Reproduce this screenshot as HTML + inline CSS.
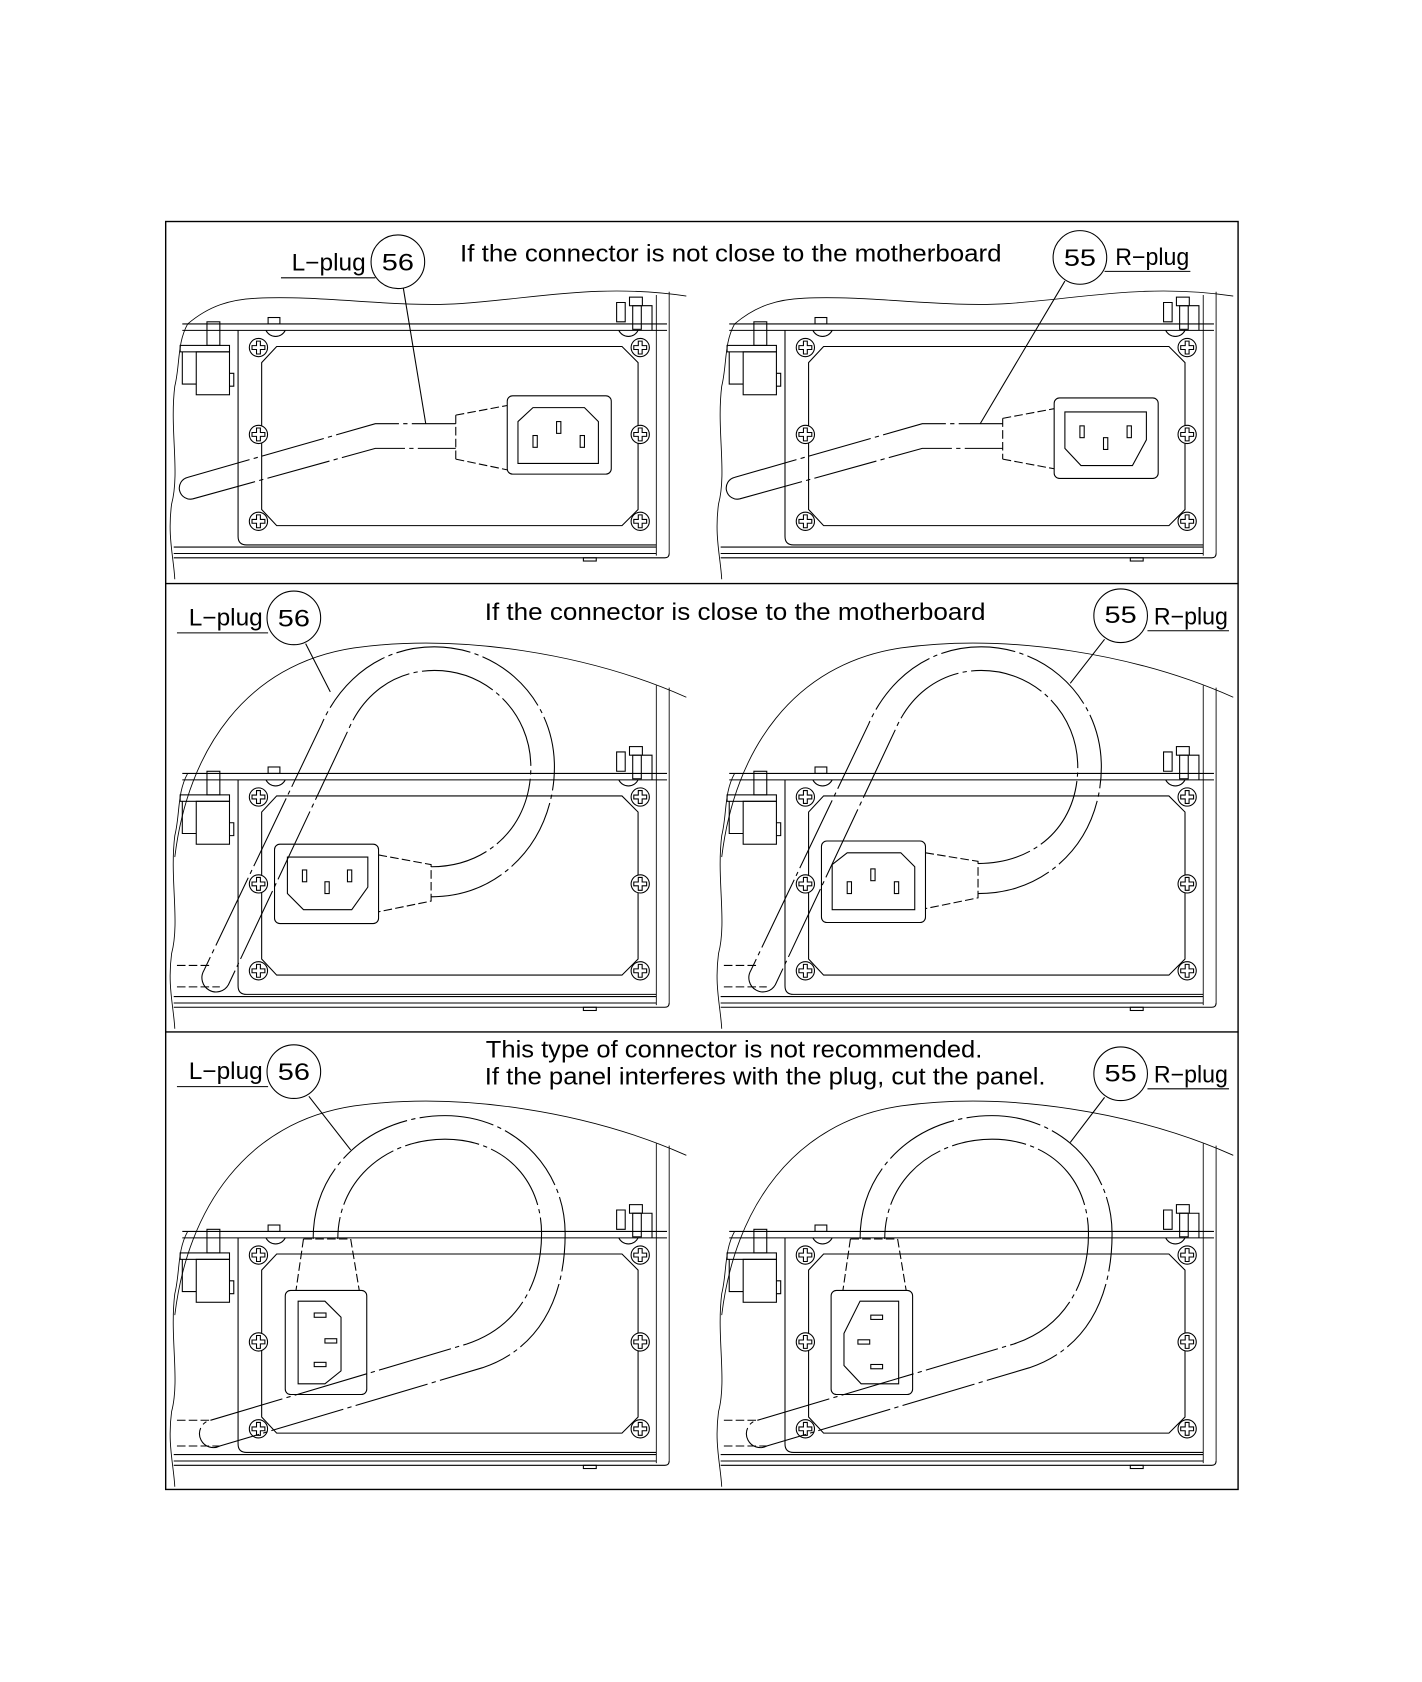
<!DOCTYPE html>
<html><head><meta charset="utf-8"><style>
html,body{margin:0;padding:0;background:#fff;}
svg{display:block;}
text{font-family:"Liberation Sans","Noto Sans CJK JP",sans-serif;font-size:22px;fill:#000;}
</style></head><body>
<svg width="1422" height="1682" viewBox="0 0 1326 1568" preserveAspectRatio="none" xmlns="http://www.w3.org/2000/svg">
<defs>
<g id="screw" fill="#fff" stroke="#000" stroke-width="1">
<circle r="8.5"/>
<path d="M-1.8,-6 H1.8 V-1.8 H6 V1.8 H1.8 V6 H-1.8 V1.8 H-6 V-1.8 H-1.8 Z" fill="none"/>
</g>
<g id="chassis" fill="none" stroke="#000" stroke-width="1">
<path d="M175,302 C165,320 168,340 163,360 C158,400 168,440 160,470 C156,500 162,520 163,540" stroke-width="0.8"/>
<line x1="170" y1="302" x2="622" y2="302"/>
<line x1="170" y1="308" x2="622" y2="308"/>
<path d="M222,308 V500 Q222,508 230,508 H612"/>
<path d="M258,323 H580 L595,338 V475 L580,490 H258 L244,475 V338 Z"/>
<line x1="162" y1="510" x2="612" y2="510"/>
<line x1="162" y1="516" x2="612" y2="516"/>
<path d="M162,520 H620 Q624,520 624,516"/>
<rect x="544" y="520" width="12" height="3"/>
<rect x="250" y="296" width="11" height="6"/>
<path d="M248,308 A10,10 0 0 0 266,308"/>
<rect x="193" y="300" width="12" height="22"/>
<rect x="168" y="322" width="46" height="6"/>
<rect x="183" y="328" width="31" height="40"/>
<path d="M170,328 V358 H183"/>
<path d="M214,348 H218 V360 H214"/>
<path d="M575,282 H583 V300 H575 Z"/>
<rect x="587" y="277" width="12" height="8"/>
<rect x="590" y="285" width="8" height="22"/>
<path d="M599,285 H608 V308"/>
<path d="M577,308 A10,10 0 0 0 595,308"/>
<use href="#screw" x="241" y="324"/><use href="#screw" x="597" y="324"/>
<use href="#screw" x="241" y="405"/><use href="#screw" x="597" y="405"/>
<use href="#screw" x="241" y="486"/><use href="#screw" x="597" y="486"/>
</g>
<g id="shell1" fill="none" stroke="#000" stroke-width="0.8">
<path d="M175,302 C195,285 215,279 240,278 C300,275 370,287 430,283 C500,278 560,264 640,276"/>
<path d="M612,275 V518 M624,272 V516"/>
</g>
<g id="shell2" fill="none" stroke="#000" stroke-width="0.8">
<path d="M163,380 C175,280 230,200 330,185 C430,171 550,191 640,231"/>
<path d="M612,220 V518 M624,222 V516"/>
</g>
</defs>

<rect x="154.5" y="206.5" width="1000" height="1182" fill="none" stroke="#000" stroke-width="1.3"/>
<line x1="154" y1="544" x2="1155" y2="544" stroke="#000" stroke-width="1.3"/>
<line x1="154" y1="962" x2="1155" y2="962" stroke="#000" stroke-width="1.3"/>

<!-- Row 1 -->
<use href="#shell1"/><use href="#chassis"/>
<use href="#shell1" x="510"/><use href="#chassis" x="510"/>
<g fill="none" stroke="#000" stroke-width="1">
<path d="M175,445 L350,395 H425 M180,465 L350,418 H425 M175,445 A10,10 0 0 0 180,465" stroke-dasharray="60 4 4 4"/>
<path d="M425,387 L473,378 M425,428 L473,438 M425,387 V428" stroke-dasharray="8 3"/>
<rect x="473" y="369" width="97" height="73" rx="5"/>
<path d="M483,393 L497,380 H545 L558,393 V432 H483 Z"/>
<rect x="497" y="406" width="4" height="11"/><rect x="519" y="393" width="4" height="11"/><rect x="541" y="406" width="4" height="11"/>
<path d="M685,445 L860,395 H935 M690,465 L860,418 H935 M685,445 A10,10 0 0 0 690,465" stroke-dasharray="60 4 4 4"/>
<path d="M935,390 L983,381 M935,428 L983,437 M935,390 V428" stroke-dasharray="8 3"/>
<rect x="983" y="371" width="97" height="75" rx="5"/>
<path d="M993,384 H1069 V410 L1056,434 H1008 L993,418 Z"/>
<rect x="1007" y="397" width="4" height="11"/><rect x="1029" y="408" width="4" height="11"/><rect x="1051" y="397" width="4" height="11"/>
<line x1="376" y1="268" x2="397" y2="395"/>
<line x1="993" y1="262" x2="914" y2="395"/>
<line x1="262" y1="259" x2="350" y2="259"/>
<line x1="1030" y1="253" x2="1110" y2="253"/>
<circle cx="371" cy="244" r="25" fill="#fff"/>
<circle cx="1007" cy="240" r="25" fill="#fff"/>
</g>
<text x="272" y="252" textLength="69" lengthAdjust="spacingAndGlyphs">L−plug</text><text x="356" y="252" textLength="30" lengthAdjust="spacingAndGlyphs">56</text>
<text x="992" y="248" textLength="30" lengthAdjust="spacingAndGlyphs">55</text><text x="1040" y="247" textLength="69" lengthAdjust="spacingAndGlyphs">R−plug</text>
<text x="429" y="244" textLength="505" lengthAdjust="spacingAndGlyphs">If the connector is not close to the motherboard</text>

<!-- Row 2 -->
<use href="#shell2" y="419"/><use href="#chassis" y="419"/>
<use href="#shell2" x="510" y="419"/><use href="#chassis" x="510" y="419"/>
<g fill="none" stroke="#000" stroke-width="1">
<path d="M402,836 C470,836 517,780 517,715 C517,650 465,603 405,603 C350,603 315,640 300,675 L190,905 A12,12 0 0 0 213,918 L325,680 C340,645 370,625 405,625 C455,625 495,665 495,715 C495,770 455,808 402,808" stroke-dasharray="70 4 4 4"/>
<line x1="165" y1="900" x2="195" y2="900" stroke-dasharray="8 3"/><line x1="165" y1="920" x2="205" y2="920" stroke-dasharray="8 3"/>
<path d="M353,797 L402,806 V840 L353,850" stroke-dasharray="8 3"/>
<rect x="256" y="787" width="97" height="74" rx="5"/>
<path d="M268,799 H343 V827 L328,848 H283 L268,833 Z"/>
<rect x="282" y="811" width="4" height="11"/><rect x="303" y="822" width="4" height="11"/><rect x="324" y="811" width="4" height="11"/>
<path d="M912,833 C980,833 1027,780 1027,715 C1027,650 975,603 915,603 C860,603 825,640 810,675 L700,905 A12,12 0 0 0 723,918 L835,680 C850,645 880,625 915,625 C965,625 1005,665 1005,715 C1005,770 965,805 912,805" stroke-dasharray="70 4 4 4"/>
<line x1="675" y1="900" x2="705" y2="900" stroke-dasharray="8 3"/><line x1="675" y1="920" x2="715" y2="920" stroke-dasharray="8 3"/>
<path d="M863,795 L912,803 V837 L863,847" stroke-dasharray="8 3"/>
<rect x="766" y="784" width="97" height="76" rx="5"/>
<path d="M776,806 L790,795 H840 L853,808 V848 H776 Z"/>
<rect x="790" y="822" width="4" height="11"/><rect x="812" y="810" width="4" height="11"/><rect x="834" y="822" width="4" height="11"/>
<line x1="285" y1="600" x2="308" y2="645"/>
<line x1="1030" y1="596" x2="998" y2="637"/>
<line x1="165" y1="590" x2="250" y2="590"/>
<line x1="1070" y1="588" x2="1146" y2="588"/>
<circle cx="274" cy="576" r="25" fill="#fff"/>
<circle cx="1045" cy="574" r="25" fill="#fff"/>
</g>
<text x="176" y="583" textLength="69" lengthAdjust="spacingAndGlyphs">L−plug</text><text x="259" y="584" textLength="30" lengthAdjust="spacingAndGlyphs">56</text>
<text x="1030" y="581" textLength="30" lengthAdjust="spacingAndGlyphs">55</text><text x="1076" y="582" textLength="69" lengthAdjust="spacingAndGlyphs">R−plug</text>
<text x="452" y="578" textLength="467" lengthAdjust="spacingAndGlyphs">If the connector is close to the motherboard</text>

<!-- Row 3 -->
<use href="#shell2" y="846"/><use href="#chassis" y="846"/>
<use href="#shell2" x="510" y="846"/><use href="#chassis" x="510" y="846"/>
<g fill="none" stroke="#000" stroke-width="1">
<path d="M292,1155 C292,1085 350,1040 415,1040 C480,1040 527,1090 527,1150 C527,1225 490,1262 450,1275 L205,1348 A12,12 0 0 1 193,1325 L435,1253 C475,1240 505,1205 505,1150 C505,1100 470,1062 415,1062 C360,1062 315,1100 315,1155" stroke-dasharray="70 4 4 4"/>
<line x1="165" y1="1324" x2="195" y2="1324" stroke-dasharray="8 3"/><line x1="165" y1="1348" x2="205" y2="1348" stroke-dasharray="8 3"/>
<path d="M283,1155 H327 L335,1203 M283,1155 L276,1203" stroke-dasharray="8 3"/>
<rect x="266" y="1203" width="76" height="97" rx="5"/>
<path d="M278,1213 H303 L318,1228 V1278 L303,1290 H278 Z"/>
<rect x="293" y="1224" width="11" height="4"/><rect x="303" y="1248" width="11" height="4"/><rect x="293" y="1270" width="11" height="4"/>
<path d="M802,1155 C802,1085 860,1040 925,1040 C990,1040 1037,1090 1037,1150 C1037,1225 1000,1262 960,1275 L715,1348 A12,12 0 0 1 703,1325 L945,1253 C985,1240 1015,1205 1015,1150 C1015,1100 980,1062 925,1062 C870,1062 825,1100 825,1155" stroke-dasharray="70 4 4 4"/>
<line x1="675" y1="1324" x2="705" y2="1324" stroke-dasharray="8 3"/><line x1="675" y1="1348" x2="715" y2="1348" stroke-dasharray="8 3"/>
<path d="M793,1155 H837 L845,1203 M793,1155 L786,1203" stroke-dasharray="8 3"/>
<rect x="775" y="1203" width="76" height="97" rx="5"/>
<path d="M787,1243 L802,1213 H838 V1290 H803 L787,1273 Z"/>
<rect x="812" y="1226" width="11" height="4"/><rect x="800" y="1249" width="11" height="4"/><rect x="812" y="1272" width="11" height="4"/>
<line x1="288" y1="1022" x2="327" y2="1072"/>
<line x1="1030" y1="1023" x2="998" y2="1065"/>
<line x1="165" y1="1013" x2="250" y2="1013"/>
<line x1="1070" y1="1015" x2="1146" y2="1015"/>
<circle cx="274" cy="999" r="25" fill="#fff"/>
<circle cx="1045" cy="1001" r="25" fill="#fff"/>
</g>
<text x="176" y="1006" textLength="69" lengthAdjust="spacingAndGlyphs">L−plug</text><text x="259" y="1007" textLength="30" lengthAdjust="spacingAndGlyphs">56</text>
<text x="1030" y="1008" textLength="30" lengthAdjust="spacingAndGlyphs">55</text><text x="1076" y="1009" textLength="69" lengthAdjust="spacingAndGlyphs">R−plug</text>
<text x="453" y="986" textLength="463" lengthAdjust="spacingAndGlyphs">This type of connector is not recommended.</text>
<text x="452" y="1011" textLength="523" lengthAdjust="spacingAndGlyphs">If the panel interferes with the plug, cut the panel.</text>
</svg>
</body></html>
